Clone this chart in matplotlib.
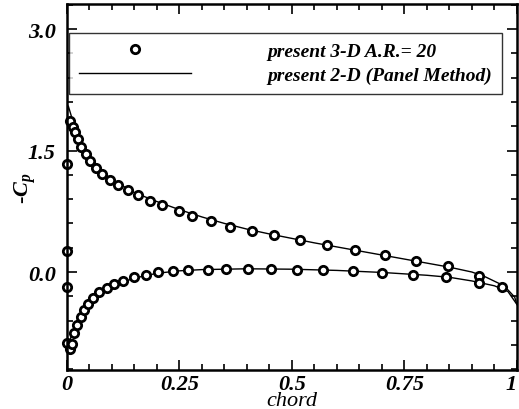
import matplotlib.pyplot as plt
from matplotlib.ticker import MultipleLocator

plt.rcParams['font.family'] = ['Liberation Serif', 'DejaVu Serif']
plt.rcParams['font.weight'] = 'bold'
plt.rcParams['font.style'] = 'italic'
plt.rcParams['mathtext.fontset'] = 'custom'
plt.rcParams['mathtext.it'] = 'Liberation Serif:bold:italic'
plt.rcParams['mathtext.rm'] = 'Liberation Serif:bold:italic'

# present 3-D A.R.=20 (circles), upper and lower surface
x3d_upper = [0.0, 0.007, 0.013, 0.018, 0.025, 0.032, 0.042, 0.052, 0.064, 0.077,
             0.095, 0.114, 0.136, 0.158, 0.184, 0.212, 0.248, 0.279, 0.321, 0.362,
             0.412, 0.46, 0.519, 0.577, 0.641, 0.706, 0.776, 0.846, 0.915, 0.967]
cp3d_upper = [1.33, 1.86, 1.79, 1.73, 1.64, 1.54, 1.46, 1.37, 1.29, 1.21,
              1.14, 1.08, 1.01, 0.95, 0.88, 0.83, 0.75, 0.69, 0.63, 0.56,
              0.51, 0.46, 0.39, 0.33, 0.27, 0.21, 0.135, 0.075, -0.05, -0.18]
x3d_lower = [0.0, 0.0, 0.0, 0.007, 0.012, 0.015, 0.023, 0.031, 0.038, 0.047,
             0.058, 0.072, 0.088, 0.105, 0.125, 0.148, 0.175, 0.202, 0.235, 0.268,
             0.313, 0.353, 0.403, 0.453, 0.512, 0.569, 0.635, 0.70, 0.77, 0.842, 0.915]
cp3d_lower = [0.26, -0.19, -0.88, -0.95, -0.89, -0.75, -0.65, -0.55, -0.47, -0.39,
              -0.32, -0.25, -0.20, -0.15, -0.11, -0.065, -0.037, -0.004, 0.016, 0.028,
              0.03, 0.037, 0.037, 0.037, 0.03, 0.022, 0.01, -0.01, -0.04, -0.06, -0.13]

# present 2-D panel method (line)
x2d_upper = [0.0, 0.003, 0.01, 0.02, 0.03, 0.05, 0.075, 0.1, 0.15, 0.2, 0.25, 0.3,
             0.35, 0.4, 0.45, 0.5, 0.55, 0.6, 0.65, 0.7, 0.75, 0.8, 0.85, 0.9,
             0.93, 0.96, 0.98, 0.995, 1.0]
cp2d_upper = [1.95, 2.05, 1.92, 1.77, 1.64, 1.44, 1.26, 1.14, 0.98, 0.87, 0.77, 0.68,
              0.6, 0.53, 0.47, 0.415, 0.36, 0.31, 0.26, 0.21, 0.16, 0.11, 0.06, 0.0,
              -0.06, -0.14, -0.22, -0.31, -0.4]
x2d_lower = [0.0, 0.005, 0.01, 0.02, 0.03, 0.05, 0.075, 0.1, 0.15, 0.2, 0.25, 0.3,
             0.4, 0.5, 0.6, 0.7, 0.8, 0.85, 0.9, 0.95, 0.98, 1.0]
cp2d_lower = [-1.0, -0.88, -0.78, -0.62, -0.52, -0.37, -0.25, -0.17, -0.075, -0.015, 0.015, 0.03,
              0.04, 0.035, 0.02, -0.005, -0.04, -0.065, -0.11, -0.17, -0.24, -0.4]

fig = plt.figure(figsize=(5.19, 4.10), dpi=100)
ax = fig.add_axes([0.129, 0.095, 0.867, 0.893])

ax.plot(x2d_upper, cp2d_upper, color='black', lw=1.0, label='present 2-D (Panel Method)')
ax.plot(x2d_lower, cp2d_lower, color='black', lw=1.0)
mk = dict(ls='none', marker='o', ms=6, mfc='white', mec='black', mew=2.0, clip_on=False)
ax.plot(x3d_upper, cp3d_upper, label='present 3-D A.R.= 20', **mk)
ax.plot(x3d_lower, cp3d_lower, **mk)

ax.set_xlim(0, 1)
ax.set_ylim(-1.21, 3.31)
ax.set_xticks([0, 0.25, 0.5, 0.75, 1])
ax.set_xticklabels(['0', '0.25', '0.5', '0.75', '1'])
ax.get_xticklabels()[-1].set_horizontalalignment('right')
ax.set_yticks([0.0, 1.5, 3.0])
ax.set_yticklabels(['0.0', '1.5', '3.0'])
ax.xaxis.set_minor_locator(MultipleLocator(0.05))
ax.yaxis.set_minor_locator(MultipleLocator(0.3))
ax.tick_params(which='both', direction='in', top=True, right=True, labelsize=16, width=1.2)
ax.tick_params(which='major', length=7)
ax.tick_params(axis='y', which='major', pad=8)
ax.tick_params(axis='x', which='major', pad=3)
ax.tick_params(which='minor', length=4)
for s in ax.spines.values():
    s.set_linewidth(1.8)

ax.set_xlabel('chord', fontsize=16, labelpad=-2)
ax.set_ylabel('-$C_p$', fontsize=16)
ax.yaxis.set_label_coords(-0.065, 0.5)

h, l = ax.get_legend_handles_labels()
leg = ax.legend(h[::-1], l[::-1], loc='upper left', bbox_to_anchor=(0.0, 0.926),
                fontsize=14, numpoints=1, handlelength=5.8, handletextpad=3.9,
                frameon=True, fancybox=False, edgecolor='black', borderpad=0.5,
                labelspacing=0.3, borderaxespad=0.1)
leg.get_frame().set_linewidth(1.0)

fig.savefig('out.png', dpi=100)
